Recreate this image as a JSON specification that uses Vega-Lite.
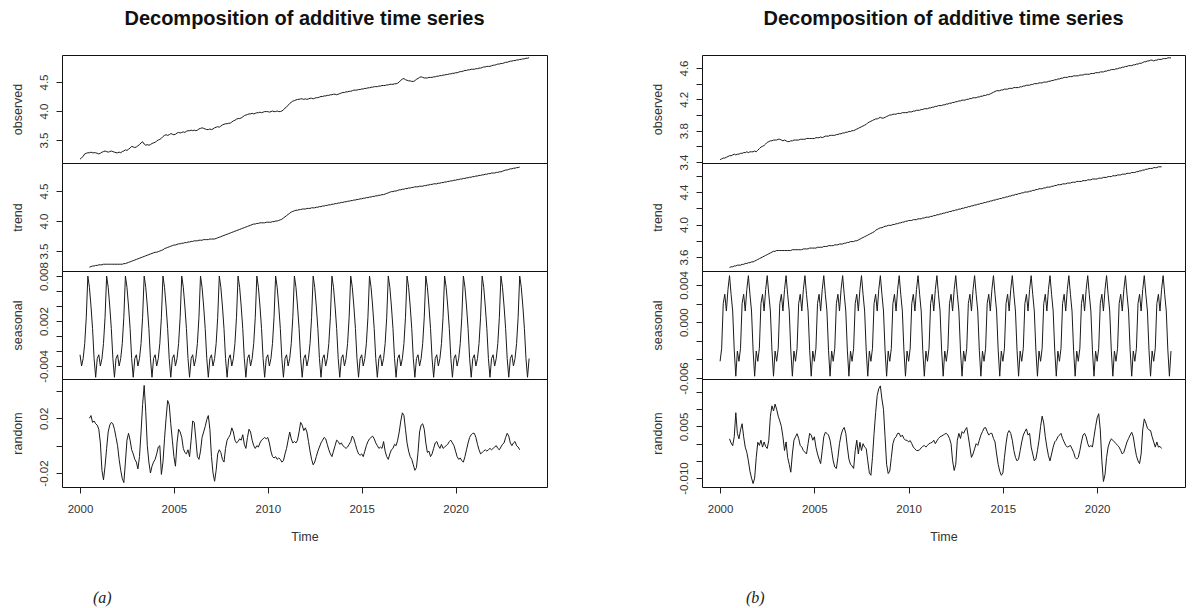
{
"$schema":"https://vega.github.io/schema/vega-lite/v6.json",
"background":"white",
"padding":{"left":10,"top":8,"right":0,"bottom":0},
"config":{
"view":{"stroke":"#111","strokeWidth":1},
"axis":{"grid":false,"domain":false,"tickColor":"#222","tickSize":6,"tickWidth":1,"labelFont":"Liberation Sans","labelFontSize":11.5,"labelColor":"#333","titleFont":"Liberation Sans","titleFontSize":12.5,"titleFontWeight":"normal","titleColor":"#333","labelOverlap":false,"labelFlush":false,"labelBound":false},
"axisY":{"labelAngle":-90,"labelAlign":"center","labelBaseline":"alphabetic","labelPadding":9,"titlePadding":14},
"axisX":{"labelAngle":0,"labelAlign":"center","labelBaseline":"top","labelPadding":10,"titlePadding":16},
"line":{"color":"#1a1a1a","strokeWidth":1}
},
"data":{"values":[
{"t":2000,"ao":3.17,"as":-0.0025,"bo":3.43,"bs":-0.0042},
{"t":2000.083,"ao":3.19,"as":-0.004,"bo":3.44,"bs":-0.0028},
{"t":2000.167,"ao":3.22,"as":-0.003,"bo":3.45,"bs":0.002},
{"t":2000.25,"ao":3.26,"as":-0.001,"bo":3.45,"bs":0.003},
{"t":2000.333,"ao":3.27,"as":0.0025,"bo":3.46,"bs":0.0012},
{"t":2000.417,"ao":3.28,"as":0.008,"bo":3.47,"bs":0.0035},
{"t":2000.5,"ao":3.28,"at":3.23,"as":0.0065,"ar":0.020,"bo":3.48,"bt":3.47,"bs":0.005,"br":0.0014},
{"t":2000.583,"ao":3.29,"at":3.24,"as":0.004,"ar":0.022,"bo":3.48,"bt":3.48,"bs":0.003,"br":0.0002},
{"t":2000.667,"ao":3.28,"at":3.25,"as":0.001,"ar":0.017,"bo":3.49,"bt":3.48,"bs":0.0012,"br":-0.0006},
{"t":2000.75,"ao":3.28,"at":3.25,"as":-0.003,"ar":0.018,"bo":3.50,"bt":3.49,"bs":-0.003,"br":0.0020},
{"t":2000.833,"ao":3.28,"at":3.26,"as":-0.0055,"ar":0.016,"bo":3.49,"bt":3.49,"bs":-0.0058,"br":0.0090},
{"t":2000.917,"ao":3.27,"at":3.26,"as":-0.003,"ar":0.015,"bo":3.50,"bt":3.50,"bs":-0.0031,"br":0.0030},
{"t":2001,"ao":3.26,"at":3.27,"as":-0.0025,"ar":0.012,"bo":3.50,"bt":3.50,"bs":-0.0042,"br":0.0014},
{"t":2001.083,"ao":3.27,"at":3.27,"as":-0.004,"ar":0.002,"bo":3.51,"bt":3.50,"bs":-0.0028,"br":0.0040},
{"t":2001.167,"ao":3.29,"at":3.27,"as":-0.003,"ar":-0.018,"bo":3.51,"bt":3.51,"bs":0.002,"br":0.0058},
{"t":2001.25,"ao":3.30,"at":3.28,"as":-0.001,"ar":-0.025,"bo":3.52,"bt":3.51,"bs":0.003,"br":0.0020},
{"t":2001.333,"ao":3.31,"at":3.28,"as":0.0025,"ar":-0.015,"bo":3.52,"bt":3.52,"bs":0.0012,"br":-0.0010},
{"t":2001.417,"ao":3.30,"at":3.28,"as":0.008,"ar":-0.002,"bo":3.53,"bt":3.52,"bs":0.0035,"br":-0.0025},
{"t":2001.5,"ao":3.29,"at":3.28,"as":0.0065,"ar":0.010,"bo":3.52,"bt":3.53,"bs":0.005,"br":-0.0050},
{"t":2001.583,"ao":3.30,"at":3.28,"as":0.004,"ar":0.015,"bo":3.53,"bt":3.53,"bs":0.003,"br":-0.0080},
{"t":2001.667,"ao":3.31,"at":3.28,"as":0.001,"ar":0.017,"bo":3.53,"bt":3.54,"bs":0.0012,"br":-0.0100},
{"t":2001.75,"ao":3.30,"at":3.28,"as":-0.003,"ar":0.016,"bo":3.53,"bt":3.54,"bs":-0.003,"br":-0.0116},
{"t":2001.833,"ao":3.29,"at":3.28,"as":-0.0055,"ar":0.012,"bo":3.54,"bt":3.55,"bs":-0.0058,"br":-0.0100},
{"t":2001.917,"ao":3.28,"at":3.28,"as":-0.003,"ar":0.006,"bo":3.53,"bt":3.56,"bs":-0.0031,"br":-0.0040},
{"t":2002,"ao":3.28,"at":3.28,"as":-0.0025,"ar":0.000,"bo":3.55,"bt":3.57,"bs":-0.0042,"br":0.0004},
{"t":2002.083,"ao":3.29,"at":3.28,"as":-0.004,"ar":-0.010,"bo":3.57,"bt":3.58,"bs":-0.0028,"br":-0.0005},
{"t":2002.167,"ao":3.28,"at":3.28,"as":-0.003,"ar":-0.018,"bo":3.59,"bt":3.59,"bs":0.002,"br":0.0010},
{"t":2002.25,"ao":3.30,"at":3.28,"as":-0.001,"ar":-0.024,"bo":3.60,"bt":3.60,"bs":0.003,"br":-0.0010},
{"t":2002.333,"ao":3.31,"at":3.29,"as":0.0025,"ar":-0.027,"bo":3.61,"bt":3.61,"bs":0.0012,"br":0.0005},
{"t":2002.417,"ao":3.33,"at":3.29,"as":0.008,"ar":-0.012,"bo":3.63,"bt":3.62,"bs":0.0035,"br":-0.0008},
{"t":2002.5,"ao":3.32,"at":3.30,"as":0.0065,"ar":0.004,"bo":3.65,"bt":3.63,"bs":0.005,"br":-0.0014},
{"t":2002.583,"ao":3.34,"at":3.31,"as":0.004,"ar":0.009,"bo":3.66,"bt":3.64,"bs":0.003,"br":0.0010},
{"t":2002.667,"ao":3.36,"at":3.32,"as":0.001,"ar":0.004,"bo":3.67,"bt":3.65,"bs":0.0012,"br":0.0080},
{"t":2002.75,"ao":3.39,"at":3.33,"as":-0.003,"ar":-0.003,"bo":3.67,"bt":3.66,"bs":-0.003,"br":0.0110},
{"t":2002.833,"ao":3.38,"at":3.34,"as":-0.0055,"ar":-0.006,"bo":3.68,"bt":3.67,"bs":-0.0058,"br":0.0095},
{"t":2002.917,"ao":3.37,"at":3.35,"as":-0.003,"ar":-0.010,"bo":3.68,"bt":3.67,"bs":-0.0031,"br":0.0115},
{"t":2003,"ao":3.38,"at":3.36,"as":-0.0025,"ar":-0.012,"bo":3.68,"bt":3.68,"bs":-0.0042,"br":0.0100},
{"t":2003.083,"ao":3.40,"at":3.37,"as":-0.004,"ar":-0.017,"bo":3.69,"bt":3.68,"bs":-0.0028,"br":0.0080},
{"t":2003.167,"ao":3.42,"at":3.38,"as":-0.003,"ar":-0.008,"bo":3.69,"bt":3.68,"bs":0.002,"br":0.0066},
{"t":2003.25,"ao":3.45,"at":3.39,"as":-0.001,"ar":0.010,"bo":3.68,"bt":3.68,"bs":0.003,"br":0.0050},
{"t":2003.333,"ao":3.47,"at":3.40,"as":0.0025,"ar":0.030,"bo":3.67,"bt":3.68,"bs":0.0012,"br":0.0020},
{"t":2003.417,"ao":3.43,"at":3.41,"as":0.008,"ar":0.044,"bo":3.68,"bt":3.68,"bs":0.0035,"br":-0.0020},
{"t":2003.5,"ao":3.41,"at":3.42,"as":0.0065,"ar":0.025,"bo":3.67,"bt":3.68,"bs":0.005,"br":0.0005},
{"t":2003.583,"ao":3.42,"at":3.43,"as":0.004,"ar":0.000,"bo":3.66,"bt":3.68,"bs":0.003,"br":-0.0040},
{"t":2003.667,"ao":3.41,"at":3.44,"as":0.001,"ar":-0.012,"bo":3.66,"bt":3.68,"bs":0.0012,"br":-0.0060},
{"t":2003.75,"ao":3.42,"at":3.45,"as":-0.003,"ar":-0.020,"bo":3.67,"bt":3.68,"bs":-0.003,"br":-0.0083},
{"t":2003.833,"ao":3.44,"at":3.46,"as":-0.0055,"ar":-0.015,"bo":3.67,"bt":3.69,"bs":-0.0058,"br":-0.0030},
{"t":2003.917,"ao":3.45,"at":3.47,"as":-0.003,"ar":-0.012,"bo":3.68,"bt":3.69,"bs":-0.0031,"br":0.0010},
{"t":2004,"ao":3.46,"at":3.48,"as":-0.0025,"ar":-0.010,"bo":3.68,"bt":3.69,"bs":-0.0042,"br":0.0020},
{"t":2004.083,"ao":3.48,"at":3.48,"as":-0.004,"ar":-0.006,"bo":3.68,"bt":3.69,"bs":-0.0028,"br":0.0029},
{"t":2004.167,"ao":3.50,"at":3.49,"as":-0.003,"ar":-0.001,"bo":3.68,"bt":3.69,"bs":0.002,"br":0.0015},
{"t":2004.25,"ao":3.51,"at":3.50,"as":-0.001,"ar":0.000,"bo":3.69,"bt":3.69,"bs":0.003,"br":-0.0005},
{"t":2004.333,"ao":3.53,"at":3.51,"as":0.0025,"ar":-0.021,"bo":3.69,"bt":3.69,"bs":0.0012,"br":-0.0010},
{"t":2004.417,"ao":3.56,"at":3.52,"as":0.008,"ar":-0.012,"bo":3.69,"bt":3.70,"bs":0.0035,"br":-0.0020},
{"t":2004.5,"ao":3.58,"at":3.54,"as":0.0065,"ar":0.005,"bo":3.69,"bt":3.70,"bs":0.005,"br":-0.0025},
{"t":2004.583,"ao":3.59,"at":3.55,"as":0.004,"ar":0.020,"bo":3.70,"bt":3.70,"bs":0.003,"br":-0.0030},
{"t":2004.667,"ao":3.58,"at":3.56,"as":0.001,"ar":0.033,"bo":3.70,"bt":3.70,"bs":0.0012,"br":0.0000},
{"t":2004.75,"ao":3.59,"at":3.57,"as":-0.003,"ar":0.030,"bo":3.70,"bt":3.71,"bs":-0.003,"br":0.0030},
{"t":2004.833,"ao":3.61,"at":3.58,"as":-0.0055,"ar":0.016,"bo":3.70,"bt":3.71,"bs":-0.0058,"br":0.0025},
{"t":2004.917,"ao":3.60,"at":3.59,"as":-0.003,"ar":0.004,"bo":3.70,"bt":3.71,"bs":-0.0031,"br":0.0010},
{"t":2005,"ao":3.59,"at":3.60,"as":-0.0025,"ar":-0.008,"bo":3.70,"bt":3.71,"bs":-0.0042,"br":0.0020},
{"t":2005.083,"ao":3.60,"at":3.60,"as":-0.004,"ar":-0.015,"bo":3.71,"bt":3.71,"bs":-0.0028,"br":-0.0010},
{"t":2005.167,"ao":3.62,"at":3.61,"as":-0.003,"ar":0.002,"bo":3.71,"bt":3.72,"bs":0.002,"br":-0.0030},
{"t":2005.25,"ao":3.63,"at":3.62,"as":-0.001,"ar":0.012,"bo":3.71,"bt":3.72,"bs":0.003,"br":-0.0045},
{"t":2005.333,"ao":3.62,"at":3.62,"as":0.0025,"ar":0.010,"bo":3.72,"bt":3.72,"bs":0.0012,"br":-0.0058},
{"t":2005.417,"ao":3.63,"at":3.63,"as":0.008,"ar":0.006,"bo":3.71,"bt":3.72,"bs":0.0035,"br":-0.0020},
{"t":2005.5,"ao":3.64,"at":3.63,"as":0.0065,"ar":-0.002,"bo":3.72,"bt":3.73,"bs":0.005,"br":0.0020},
{"t":2005.583,"ao":3.63,"at":3.64,"as":0.004,"ar":-0.005,"bo":3.73,"bt":3.73,"bs":0.003,"br":0.0033},
{"t":2005.667,"ao":3.65,"at":3.64,"as":0.001,"ar":-0.006,"bo":3.73,"bt":3.73,"bs":0.0012,"br":0.0030},
{"t":2005.75,"ao":3.66,"at":3.65,"as":-0.003,"ar":-0.003,"bo":3.73,"bt":3.74,"bs":-0.003,"br":0.0025},
{"t":2005.833,"ao":3.66,"at":3.65,"as":-0.0055,"ar":-0.008,"bo":3.74,"bt":3.74,"bs":-0.0058,"br":0.0010},
{"t":2005.917,"ao":3.67,"at":3.66,"as":-0.003,"ar":0.004,"bo":3.74,"bt":3.74,"bs":-0.0031,"br":-0.0020},
{"t":2006,"ao":3.66,"at":3.66,"as":-0.0025,"ar":0.018,"bo":3.74,"bt":3.74,"bs":-0.0042,"br":-0.0050},
{"t":2006.083,"ao":3.67,"at":3.67,"as":-0.004,"ar":0.017,"bo":3.74,"bt":3.75,"bs":-0.0028,"br":-0.0068},
{"t":2006.167,"ao":3.66,"at":3.67,"as":-0.003,"ar":0.005,"bo":3.75,"bt":3.75,"bs":0.002,"br":-0.0072},
{"t":2006.25,"ao":3.67,"at":3.67,"as":-0.001,"ar":-0.008,"bo":3.75,"bt":3.75,"bs":0.003,"br":-0.0040},
{"t":2006.333,"ao":3.69,"at":3.68,"as":0.0025,"ar":-0.010,"bo":3.76,"bt":3.76,"bs":0.0012,"br":0.0000},
{"t":2006.417,"ao":3.70,"at":3.68,"as":0.008,"ar":-0.004,"bo":3.76,"bt":3.76,"bs":0.0035,"br":0.0025},
{"t":2006.5,"ao":3.71,"at":3.68,"as":0.0065,"ar":0.006,"bo":3.77,"bt":3.76,"bs":0.005,"br":0.0040},
{"t":2006.583,"ao":3.70,"at":3.69,"as":0.004,"ar":0.010,"bo":3.77,"bt":3.77,"bs":0.003,"br":0.0047},
{"t":2006.667,"ao":3.69,"at":3.69,"as":0.001,"ar":0.014,"bo":3.78,"bt":3.77,"bs":0.0012,"br":0.0030},
{"t":2006.75,"ao":3.68,"at":3.69,"as":-0.003,"ar":0.019,"bo":3.78,"bt":3.78,"bs":-0.003,"br":-0.0010},
{"t":2006.833,"ao":3.68,"at":3.69,"as":-0.0055,"ar":0.022,"bo":3.79,"bt":3.78,"bs":-0.0058,"br":-0.0045},
{"t":2006.917,"ao":3.69,"at":3.70,"as":-0.003,"ar":0.012,"bo":3.79,"bt":3.79,"bs":-0.0031,"br":-0.0060},
{"t":2007,"ao":3.68,"at":3.70,"as":-0.0025,"ar":-0.008,"bo":3.80,"bt":3.79,"bs":-0.0042,"br":-0.0065},
{"t":2007.083,"ao":3.69,"at":3.70,"as":-0.004,"ar":-0.020,"bo":3.80,"bt":3.79,"bs":-0.0028,"br":-0.0072},
{"t":2007.167,"ao":3.71,"at":3.70,"as":-0.003,"ar":-0.026,"bo":3.81,"bt":3.80,"bs":0.002,"br":-0.0020},
{"t":2007.25,"ao":3.72,"at":3.71,"as":-0.001,"ar":-0.018,"bo":3.82,"bt":3.80,"bs":0.003,"br":0.0010},
{"t":2007.333,"ao":3.73,"at":3.72,"as":0.0025,"ar":-0.006,"bo":3.83,"bt":3.81,"bs":0.0012,"br":-0.0030},
{"t":2007.417,"ao":3.72,"at":3.73,"as":0.008,"ar":-0.003,"bo":3.84,"bt":3.82,"bs":0.0035,"br":0.0004},
{"t":2007.5,"ao":3.74,"at":3.74,"as":0.0065,"ar":-0.005,"bo":3.85,"bt":3.83,"bs":0.005,"br":-0.0020},
{"t":2007.583,"ao":3.76,"at":3.75,"as":0.004,"ar":-0.010,"bo":3.86,"bt":3.84,"bs":0.003,"br":0.0000},
{"t":2007.667,"ao":3.77,"at":3.76,"as":0.001,"ar":-0.012,"bo":3.87,"bt":3.85,"bs":0.0012,"br":-0.0010},
{"t":2007.75,"ao":3.78,"at":3.77,"as":-0.003,"ar":-0.002,"bo":3.88,"bt":3.86,"bs":-0.003,"br":-0.0014},
{"t":2007.833,"ao":3.78,"at":3.78,"as":-0.0055,"ar":0.004,"bo":3.90,"bt":3.87,"bs":-0.0058,"br":-0.0050},
{"t":2007.917,"ao":3.79,"at":3.79,"as":-0.003,"ar":0.006,"bo":3.91,"bt":3.88,"bs":-0.0031,"br":-0.0085},
{"t":2008,"ao":3.79,"at":3.80,"as":-0.0025,"ar":0.008,"bo":3.92,"bt":3.89,"bs":-0.0042,"br":-0.0092},
{"t":2008.083,"ao":3.81,"at":3.81,"as":-0.004,"ar":0.013,"bo":3.93,"bt":3.90,"bs":-0.0028,"br":-0.0040},
{"t":2008.167,"ao":3.83,"at":3.82,"as":-0.003,"ar":0.010,"bo":3.94,"bt":3.91,"bs":0.002,"br":0.0030},
{"t":2008.25,"ao":3.84,"at":3.83,"as":-0.001,"ar":0.004,"bo":3.95,"bt":3.93,"bs":0.003,"br":0.0090},
{"t":2008.333,"ao":3.86,"at":3.84,"as":0.0025,"ar":0.002,"bo":3.95,"bt":3.94,"bs":0.0012,"br":0.0140},
{"t":2008.417,"ao":3.87,"at":3.85,"as":0.008,"ar":0.003,"bo":3.96,"bt":3.95,"bs":0.0035,"br":0.0160},
{"t":2008.5,"ao":3.87,"at":3.86,"as":0.0065,"ar":0.005,"bo":3.97,"bt":3.96,"bs":0.005,"br":0.0168},
{"t":2008.583,"ao":3.88,"at":3.87,"as":0.004,"ar":0.004,"bo":3.96,"bt":3.96,"bs":0.003,"br":0.0130},
{"t":2008.667,"ao":3.90,"at":3.88,"as":0.001,"ar":0.008,"bo":3.96,"bt":3.97,"bs":0.0012,"br":0.0100},
{"t":2008.75,"ao":3.92,"at":3.89,"as":-0.003,"ar":0.001,"bo":3.97,"bt":3.98,"bs":-0.003,"br":0.0020},
{"t":2008.833,"ao":3.93,"at":3.90,"as":-0.0055,"ar":-0.002,"bo":3.98,"bt":3.98,"bs":-0.0058,"br":-0.0060},
{"t":2008.917,"ao":3.94,"at":3.91,"as":-0.003,"ar":0.006,"bo":3.99,"bt":3.99,"bs":-0.0031,"br":-0.0087},
{"t":2009,"ao":3.95,"at":3.92,"as":-0.0025,"ar":0.012,"bo":4.00,"bt":3.99,"bs":-0.0042,"br":-0.0080},
{"t":2009.083,"ao":3.95,"at":3.93,"as":-0.004,"ar":0.010,"bo":4.00,"bt":3.99,"bs":-0.0028,"br":-0.0040},
{"t":2009.167,"ao":3.96,"at":3.94,"as":-0.003,"ar":0.004,"bo":4.01,"bt":4.00,"bs":0.002,"br":0.0000},
{"t":2009.25,"ao":3.95,"at":3.95,"as":-0.001,"ar":0.000,"bo":4.01,"bt":4.00,"bs":0.003,"br":0.0015},
{"t":2009.333,"ao":3.96,"at":3.95,"as":0.0025,"ar":-0.002,"bo":4.01,"bt":4.01,"bs":0.0012,"br":0.0020},
{"t":2009.417,"ao":3.97,"at":3.96,"as":0.008,"ar":0.000,"bo":4.02,"bt":4.01,"bs":0.0035,"br":0.0030},
{"t":2009.5,"ao":3.97,"at":3.96,"as":0.0065,"ar":-0.001,"bo":4.02,"bt":4.02,"bs":0.005,"br":0.0030},
{"t":2009.583,"ao":3.98,"at":3.97,"as":0.004,"ar":0.002,"bo":4.02,"bt":4.02,"bs":0.003,"br":0.0020},
{"t":2009.667,"ao":3.97,"at":3.97,"as":0.001,"ar":0.004,"bo":4.03,"bt":4.03,"bs":0.0012,"br":0.0025},
{"t":2009.75,"ao":3.98,"at":3.97,"as":-0.003,"ar":0.005,"bo":4.03,"bt":4.03,"bs":-0.003,"br":0.0015},
{"t":2009.833,"ao":3.99,"at":3.97,"as":-0.0055,"ar":0.006,"bo":4.03,"bt":4.04,"bs":-0.0058,"br":0.0010},
{"t":2009.917,"ao":3.99,"at":3.98,"as":-0.003,"ar":0.005,"bo":4.03,"bt":4.04,"bs":-0.0031,"br":0.0010},
{"t":2010,"ao":3.99,"at":3.98,"as":-0.0025,"ar":0.006,"bo":4.04,"bt":4.05,"bs":-0.0042,"br":0.0005},
{"t":2010.083,"ao":3.98,"at":3.98,"as":-0.004,"ar":0.002,"bo":4.04,"bt":4.05,"bs":-0.0028,"br":0.0009},
{"t":2010.167,"ao":3.99,"at":3.98,"as":-0.003,"ar":-0.004,"bo":4.04,"bt":4.05,"bs":0.002,"br":0.0000},
{"t":2010.25,"ao":4.00,"at":3.99,"as":-0.001,"ar":-0.008,"bo":4.05,"bt":4.06,"bs":0.003,"br":-0.0010},
{"t":2010.333,"ao":3.99,"at":3.99,"as":0.0025,"ar":-0.009,"bo":4.05,"bt":4.06,"bs":0.0012,"br":-0.0015},
{"t":2010.417,"ao":3.99,"at":4.00,"as":0.008,"ar":-0.008,"bo":4.06,"bt":4.06,"bs":0.0035,"br":-0.0020},
{"t":2010.5,"ao":4.00,"at":4.00,"as":0.0065,"ar":-0.010,"bo":4.06,"bt":4.07,"bs":0.005,"br":-0.0020},
{"t":2010.583,"ao":3.99,"at":4.01,"as":0.004,"ar":-0.009,"bo":4.06,"bt":4.07,"bs":0.003,"br":-0.0018},
{"t":2010.667,"ao":3.99,"at":4.02,"as":0.001,"ar":-0.010,"bo":4.07,"bt":4.07,"bs":0.0012,"br":-0.0012},
{"t":2010.75,"ao":4.00,"at":4.03,"as":-0.003,"ar":-0.012,"bo":4.07,"bt":4.08,"bs":-0.003,"br":-0.0008},
{"t":2010.833,"ao":4.02,"at":4.05,"as":-0.0055,"ar":-0.011,"bo":4.08,"bt":4.08,"bs":-0.0058,"br":-0.0005},
{"t":2010.917,"ao":4.05,"at":4.07,"as":-0.003,"ar":-0.006,"bo":4.08,"bt":4.09,"bs":-0.0031,"br":-0.0010},
{"t":2011,"ao":4.07,"at":4.09,"as":-0.0025,"ar":-0.002,"bo":4.08,"bt":4.09,"bs":-0.0042,"br":-0.0005},
{"t":2011.083,"ao":4.10,"at":4.11,"as":-0.004,"ar":0.004,"bo":4.09,"bt":4.09,"bs":-0.0028,"br":0.0000},
{"t":2011.167,"ao":4.13,"at":4.13,"as":-0.003,"ar":0.010,"bo":4.09,"bt":4.10,"bs":0.002,"br":0.0002},
{"t":2011.25,"ao":4.15,"at":4.15,"as":-0.001,"ar":0.005,"bo":4.10,"bt":4.10,"bs":0.003,"br":0.0004},
{"t":2011.333,"ao":4.17,"at":4.16,"as":0.0025,"ar":0.002,"bo":4.10,"bt":4.11,"bs":0.0012,"br":0.0010},
{"t":2011.417,"ao":4.18,"at":4.17,"as":0.008,"ar":0.003,"bo":4.11,"bt":4.11,"bs":0.0035,"br":0.0000},
{"t":2011.5,"ao":4.19,"at":4.18,"as":0.0065,"ar":0.002,"bo":4.11,"bt":4.12,"bs":0.005,"br":0.0008},
{"t":2011.583,"ao":4.20,"at":4.18,"as":0.004,"ar":0.004,"bo":4.12,"bt":4.12,"bs":0.003,"br":0.0015},
{"t":2011.667,"ao":4.20,"at":4.19,"as":0.001,"ar":0.010,"bo":4.12,"bt":4.13,"bs":0.0012,"br":0.0020},
{"t":2011.75,"ao":4.21,"at":4.19,"as":-0.003,"ar":0.017,"bo":4.12,"bt":4.13,"bs":-0.003,"br":0.0022},
{"t":2011.833,"ao":4.21,"at":4.20,"as":-0.0055,"ar":0.015,"bo":4.13,"bt":4.14,"bs":-0.0058,"br":0.0025},
{"t":2011.917,"ao":4.20,"at":4.20,"as":-0.003,"ar":0.011,"bo":4.13,"bt":4.14,"bs":-0.0031,"br":0.0028},
{"t":2012,"ao":4.21,"at":4.20,"as":-0.0025,"ar":0.013,"bo":4.14,"bt":4.15,"bs":-0.0042,"br":0.0030},
{"t":2012.083,"ao":4.20,"at":4.21,"as":-0.004,"ar":0.010,"bo":4.14,"bt":4.15,"bs":-0.0028,"br":0.0025},
{"t":2012.167,"ao":4.21,"at":4.21,"as":-0.003,"ar":0.003,"bo":4.15,"bt":4.16,"bs":0.002,"br":0.0015},
{"t":2012.25,"ao":4.22,"at":4.21,"as":-0.001,"ar":-0.004,"bo":4.15,"bt":4.16,"bs":0.003,"br":0.0000},
{"t":2012.333,"ao":4.22,"at":4.22,"as":0.0025,"ar":-0.010,"bo":4.16,"bt":4.17,"bs":0.0012,"br":-0.0050},
{"t":2012.417,"ao":4.21,"at":4.22,"as":0.008,"ar":-0.014,"bo":4.16,"bt":4.17,"bs":0.0035,"br":-0.0078},
{"t":2012.5,"ao":4.22,"at":4.22,"as":0.0065,"ar":-0.012,"bo":4.17,"bt":4.18,"bs":0.005,"br":-0.0060},
{"t":2012.583,"ao":4.23,"at":4.23,"as":0.004,"ar":-0.008,"bo":4.17,"bt":4.18,"bs":0.003,"br":0.0010},
{"t":2012.667,"ao":4.23,"at":4.23,"as":0.001,"ar":-0.004,"bo":4.18,"bt":4.19,"bs":0.0012,"br":0.0030},
{"t":2012.75,"ao":4.24,"at":4.24,"as":-0.003,"ar":-0.001,"bo":4.18,"bt":4.19,"bs":-0.003,"br":0.0015},
{"t":2012.833,"ao":4.25,"at":4.24,"as":-0.0055,"ar":0.002,"bo":4.19,"bt":4.20,"bs":-0.0058,"br":0.0035},
{"t":2012.917,"ao":4.25,"at":4.25,"as":-0.003,"ar":0.004,"bo":4.19,"bt":4.20,"bs":-0.0031,"br":0.0030},
{"t":2013,"ao":4.26,"at":4.25,"as":-0.0025,"ar":0.006,"bo":4.19,"bt":4.21,"bs":-0.0042,"br":0.0040},
{"t":2013.083,"ao":4.26,"at":4.26,"as":-0.004,"ar":0.005,"bo":4.20,"bt":4.21,"bs":-0.0028,"br":0.0047},
{"t":2013.167,"ao":4.27,"at":4.26,"as":-0.003,"ar":0.001,"bo":4.20,"bt":4.22,"bs":0.002,"br":0.0020},
{"t":2013.25,"ao":4.27,"at":4.27,"as":-0.001,"ar":-0.003,"bo":4.21,"bt":4.22,"bs":0.003,"br":-0.0010},
{"t":2013.333,"ao":4.28,"at":4.27,"as":0.0025,"ar":-0.006,"bo":4.21,"bt":4.23,"bs":0.0012,"br":-0.0040},
{"t":2013.417,"ao":4.28,"at":4.28,"as":0.008,"ar":-0.008,"bo":4.22,"bt":4.23,"bs":0.0035,"br":-0.0030},
{"t":2013.5,"ao":4.29,"at":4.28,"as":0.0065,"ar":-0.004,"bo":4.22,"bt":4.24,"bs":0.005,"br":-0.0015},
{"t":2013.583,"ao":4.29,"at":4.29,"as":0.004,"ar":0.000,"bo":4.22,"bt":4.24,"bs":0.003,"br":0.0000},
{"t":2013.667,"ao":4.28,"at":4.29,"as":0.001,"ar":0.004,"bo":4.23,"bt":4.25,"bs":0.0012,"br":-0.0005},
{"t":2013.75,"ao":4.29,"at":4.30,"as":-0.003,"ar":0.003,"bo":4.23,"bt":4.25,"bs":-0.003,"br":0.0010},
{"t":2013.833,"ao":4.30,"at":4.30,"as":-0.0055,"ar":0.001,"bo":4.24,"bt":4.26,"bs":-0.0058,"br":0.0025},
{"t":2013.917,"ao":4.31,"at":4.31,"as":-0.003,"ar":0.002,"bo":4.24,"bt":4.26,"bs":-0.0031,"br":0.0035},
{"t":2014,"ao":4.32,"at":4.31,"as":-0.0025,"ar":0.000,"bo":4.25,"bt":4.27,"bs":-0.0042,"br":0.0045},
{"t":2014.083,"ao":4.32,"at":4.32,"as":-0.004,"ar":-0.001,"bo":4.25,"bt":4.27,"bs":-0.0028,"br":0.0047},
{"t":2014.167,"ao":4.33,"at":4.32,"as":-0.003,"ar":-0.002,"bo":4.26,"bt":4.28,"bs":0.002,"br":0.0035},
{"t":2014.25,"ao":4.33,"at":4.33,"as":-0.001,"ar":-0.001,"bo":4.26,"bt":4.28,"bs":0.003,"br":0.0025},
{"t":2014.333,"ao":4.34,"at":4.33,"as":0.0025,"ar":0.001,"bo":4.27,"bt":4.29,"bs":0.0012,"br":0.0030},
{"t":2014.417,"ao":4.34,"at":4.34,"as":0.008,"ar":0.003,"bo":4.28,"bt":4.29,"bs":0.0035,"br":0.0030},
{"t":2014.5,"ao":4.35,"at":4.34,"as":0.0065,"ar":0.007,"bo":4.29,"bt":4.30,"bs":0.005,"br":0.0015},
{"t":2014.583,"ao":4.36,"at":4.35,"as":0.004,"ar":0.005,"bo":4.30,"bt":4.30,"bs":0.003,"br":0.0005},
{"t":2014.667,"ao":4.36,"at":4.35,"as":0.001,"ar":0.001,"bo":4.31,"bt":4.31,"bs":0.0012,"br":-0.0030},
{"t":2014.75,"ao":4.36,"at":4.36,"as":-0.003,"ar":-0.003,"bo":4.31,"bt":4.31,"bs":-0.003,"br":-0.0060},
{"t":2014.833,"ao":4.37,"at":4.36,"as":-0.0055,"ar":-0.006,"bo":4.31,"bt":4.32,"bs":-0.0058,"br":-0.0080},
{"t":2014.917,"ao":4.37,"at":4.37,"as":-0.003,"ar":-0.007,"bo":4.32,"bt":4.32,"bs":-0.0031,"br":-0.0092},
{"t":2015,"ao":4.38,"at":4.37,"as":-0.0025,"ar":-0.006,"bo":4.32,"bt":4.33,"bs":-0.0042,"br":-0.0085},
{"t":2015.083,"ao":4.38,"at":4.38,"as":-0.004,"ar":-0.008,"bo":4.33,"bt":4.33,"bs":-0.0028,"br":-0.0040},
{"t":2015.167,"ao":4.39,"at":4.38,"as":-0.003,"ar":-0.004,"bo":4.33,"bt":4.34,"bs":0.002,"br":0.0000},
{"t":2015.25,"ao":4.39,"at":4.39,"as":-0.001,"ar":0.000,"bo":4.33,"bt":4.34,"bs":0.003,"br":0.0030},
{"t":2015.333,"ao":4.40,"at":4.39,"as":0.0025,"ar":0.003,"bo":4.34,"bt":4.35,"bs":0.0012,"br":0.0038},
{"t":2015.417,"ao":4.40,"at":4.40,"as":0.008,"ar":0.005,"bo":4.34,"bt":4.35,"bs":0.0035,"br":0.0030},
{"t":2015.5,"ao":4.41,"at":4.40,"as":0.0065,"ar":0.006,"bo":4.34,"bt":4.36,"bs":0.005,"br":0.0010},
{"t":2015.583,"ao":4.41,"at":4.41,"as":0.004,"ar":0.007,"bo":4.35,"bt":4.36,"bs":0.003,"br":-0.0020},
{"t":2015.667,"ao":4.42,"at":4.41,"as":0.001,"ar":0.005,"bo":4.35,"bt":4.37,"bs":0.0012,"br":-0.0040},
{"t":2015.75,"ao":4.42,"at":4.42,"as":-0.003,"ar":0.002,"bo":4.35,"bt":4.37,"bs":-0.003,"br":-0.0050},
{"t":2015.833,"ao":4.42,"at":4.42,"as":-0.0055,"ar":0.000,"bo":4.35,"bt":4.38,"bs":-0.0058,"br":-0.0045},
{"t":2015.917,"ao":4.43,"at":4.43,"as":-0.003,"ar":-0.002,"bo":4.36,"bt":4.38,"bs":-0.0031,"br":-0.0020},
{"t":2016,"ao":4.43,"at":4.43,"as":-0.0025,"ar":-0.001,"bo":4.36,"bt":4.39,"bs":-0.0042,"br":0.0005},
{"t":2016.083,"ao":4.44,"at":4.44,"as":-0.004,"ar":-0.002,"bo":4.37,"bt":4.39,"bs":-0.0028,"br":0.0025},
{"t":2016.167,"ao":4.44,"at":4.44,"as":-0.003,"ar":0.003,"bo":4.37,"bt":4.40,"bs":0.002,"br":0.0035},
{"t":2016.25,"ao":4.44,"at":4.45,"as":-0.001,"ar":-0.004,"bo":4.38,"bt":4.40,"bs":0.003,"br":0.0043},
{"t":2016.333,"ao":4.45,"at":4.46,"as":0.0025,"ar":-0.008,"bo":4.38,"bt":4.40,"bs":0.0012,"br":0.0025},
{"t":2016.417,"ao":4.45,"at":4.47,"as":0.008,"ar":-0.010,"bo":4.38,"bt":4.41,"bs":0.0035,"br":0.0030},
{"t":2016.5,"ao":4.46,"at":4.48,"as":0.0065,"ar":-0.006,"bo":4.39,"bt":4.41,"bs":0.005,"br":-0.0010},
{"t":2016.583,"ao":4.46,"at":4.49,"as":0.004,"ar":-0.003,"bo":4.39,"bt":4.42,"bs":0.003,"br":-0.0030},
{"t":2016.667,"ao":4.46,"at":4.49,"as":0.001,"ar":-0.002,"bo":4.40,"bt":4.42,"bs":0.0012,"br":-0.0050},
{"t":2016.75,"ao":4.47,"at":4.50,"as":-0.003,"ar":0.001,"bo":4.40,"bt":4.43,"bs":-0.003,"br":-0.0045},
{"t":2016.833,"ao":4.47,"at":4.50,"as":-0.0055,"ar":0.000,"bo":4.40,"bt":4.43,"bs":-0.0058,"br":-0.0020},
{"t":2016.917,"ao":4.48,"at":4.51,"as":-0.003,"ar":0.004,"bo":4.41,"bt":4.44,"bs":-0.0031,"br":0.0010},
{"t":2017,"ao":4.50,"at":4.52,"as":-0.0025,"ar":0.010,"bo":4.41,"bt":4.44,"bs":-0.0042,"br":0.0050},
{"t":2017.083,"ao":4.53,"at":4.52,"as":-0.004,"ar":0.018,"bo":4.41,"bt":4.44,"bs":-0.0028,"br":0.0080},
{"t":2017.167,"ao":4.55,"at":4.53,"as":-0.003,"ar":0.024,"bo":4.42,"bt":4.45,"bs":0.002,"br":0.0060},
{"t":2017.25,"ao":4.56,"at":4.53,"as":-0.001,"ar":0.022,"bo":4.42,"bt":4.45,"bs":0.003,"br":0.0020},
{"t":2017.333,"ao":4.54,"at":4.54,"as":0.0025,"ar":0.012,"bo":4.42,"bt":4.46,"bs":0.0012,"br":-0.0010},
{"t":2017.417,"ao":4.53,"at":4.54,"as":0.008,"ar":0.002,"bo":4.43,"bt":4.46,"bs":0.0035,"br":-0.0035},
{"t":2017.5,"ao":4.52,"at":4.55,"as":0.0065,"ar":-0.004,"bo":4.43,"bt":4.46,"bs":0.005,"br":-0.0050},
{"t":2017.583,"ao":4.52,"at":4.55,"as":0.004,"ar":-0.008,"bo":4.44,"bt":4.47,"bs":0.003,"br":-0.0030},
{"t":2017.667,"ao":4.51,"at":4.56,"as":0.001,"ar":-0.010,"bo":4.44,"bt":4.47,"bs":0.0012,"br":-0.0010},
{"t":2017.75,"ao":4.51,"at":4.56,"as":-0.003,"ar":-0.014,"bo":4.45,"bt":4.48,"bs":-0.003,"br":0.0005},
{"t":2017.833,"ao":4.52,"at":4.57,"as":-0.0055,"ar":-0.018,"bo":4.45,"bt":4.48,"bs":-0.0058,"br":0.0010},
{"t":2017.917,"ao":4.55,"at":4.57,"as":-0.003,"ar":-0.016,"bo":4.46,"bt":4.49,"bs":-0.0031,"br":0.0020},
{"t":2018,"ao":4.56,"at":4.57,"as":-0.0025,"ar":-0.005,"bo":4.46,"bt":4.49,"bs":-0.0042,"br":0.0025},
{"t":2018.083,"ao":4.58,"at":4.58,"as":-0.004,"ar":0.010,"bo":4.47,"bt":4.49,"bs":-0.0028,"br":0.0030},
{"t":2018.167,"ao":4.59,"at":4.58,"as":-0.003,"ar":0.015,"bo":4.47,"bt":4.50,"bs":0.002,"br":0.0015},
{"t":2018.25,"ao":4.58,"at":4.58,"as":-0.001,"ar":0.016,"bo":4.48,"bt":4.50,"bs":0.003,"br":0.0005},
{"t":2018.333,"ao":4.57,"at":4.59,"as":0.0025,"ar":0.012,"bo":4.48,"bt":4.50,"bs":0.0012,"br":-0.0005},
{"t":2018.417,"ao":4.57,"at":4.59,"as":0.008,"ar":0.002,"bo":4.48,"bt":4.51,"bs":0.0035,"br":-0.0010},
{"t":2018.5,"ao":4.57,"at":4.60,"as":0.0065,"ar":-0.005,"bo":4.49,"bt":4.51,"bs":0.005,"br":-0.0008},
{"t":2018.583,"ao":4.58,"at":4.60,"as":0.004,"ar":-0.004,"bo":4.49,"bt":4.51,"bs":0.003,"br":-0.0005},
{"t":2018.667,"ao":4.58,"at":4.61,"as":0.001,"ar":-0.008,"bo":4.49,"bt":4.52,"bs":0.0012,"br":-0.0015},
{"t":2018.75,"ao":4.58,"at":4.61,"as":-0.003,"ar":-0.006,"bo":4.50,"bt":4.52,"bs":-0.003,"br":-0.0025},
{"t":2018.833,"ao":4.59,"at":4.62,"as":-0.0055,"ar":-0.002,"bo":4.50,"bt":4.52,"bs":-0.0058,"br":-0.0040},
{"t":2018.917,"ao":4.59,"at":4.62,"as":-0.003,"ar":0.002,"bo":4.50,"bt":4.53,"bs":-0.0031,"br":-0.0045},
{"t":2019,"ao":4.60,"at":4.62,"as":-0.0025,"ar":0.003,"bo":4.50,"bt":4.53,"bs":-0.0042,"br":-0.0040},
{"t":2019.083,"ao":4.60,"at":4.63,"as":-0.004,"ar":0.000,"bo":4.51,"bt":4.53,"bs":-0.0028,"br":-0.0020},
{"t":2019.167,"ao":4.61,"at":4.63,"as":-0.003,"ar":-0.002,"bo":4.51,"bt":4.53,"bs":0.002,"br":0.0005},
{"t":2019.25,"ao":4.61,"at":4.64,"as":-0.001,"ar":0.001,"bo":4.51,"bt":4.54,"bs":0.003,"br":0.0025},
{"t":2019.333,"ao":4.62,"at":4.64,"as":0.0025,"ar":-0.002,"bo":4.52,"bt":4.54,"bs":0.0012,"br":0.0030},
{"t":2019.417,"ao":4.62,"at":4.65,"as":0.008,"ar":-0.001,"bo":4.52,"bt":4.54,"bs":0.0035,"br":0.0020},
{"t":2019.5,"ao":4.63,"at":4.65,"as":0.0065,"ar":0.000,"bo":4.52,"bt":4.55,"bs":0.005,"br":0.0000},
{"t":2019.583,"ao":4.63,"at":4.66,"as":0.004,"ar":0.001,"bo":4.52,"bt":4.55,"bs":0.003,"br":-0.0010},
{"t":2019.667,"ao":4.64,"at":4.66,"as":0.001,"ar":0.003,"bo":4.53,"bt":4.55,"bs":0.0012,"br":-0.0005},
{"t":2019.75,"ao":4.64,"at":4.67,"as":-0.003,"ar":0.004,"bo":4.53,"bt":4.56,"bs":-0.003,"br":-0.0010},
{"t":2019.833,"ao":4.65,"at":4.67,"as":-0.0055,"ar":0.002,"bo":4.53,"bt":4.56,"bs":-0.0058,"br":0.0020},
{"t":2019.917,"ao":4.65,"at":4.68,"as":-0.003,"ar":0.000,"bo":4.54,"bt":4.56,"bs":-0.0031,"br":0.0050},
{"t":2020,"ao":4.66,"at":4.68,"as":-0.0025,"ar":-0.004,"bo":4.54,"bt":4.56,"bs":-0.0042,"br":0.0075},
{"t":2020.083,"ao":4.66,"at":4.69,"as":-0.004,"ar":-0.008,"bo":4.54,"bt":4.57,"bs":-0.0028,"br":0.0087},
{"t":2020.167,"ao":4.67,"at":4.69,"as":-0.003,"ar":-0.010,"bo":4.55,"bt":4.57,"bs":0.002,"br":0.0040},
{"t":2020.25,"ao":4.68,"at":4.70,"as":-0.001,"ar":-0.009,"bo":4.55,"bt":4.57,"bs":0.003,"br":-0.0050},
{"t":2020.333,"ao":4.68,"at":4.70,"as":0.0025,"ar":-0.011,"bo":4.55,"bt":4.58,"bs":0.0012,"br":-0.0110},
{"t":2020.417,"ao":4.69,"at":4.71,"as":0.008,"ar":-0.012,"bo":4.56,"bt":4.58,"bs":0.0035,"br":-0.0090},
{"t":2020.5,"ao":4.70,"at":4.71,"as":0.0065,"ar":-0.008,"bo":4.56,"bt":4.58,"bs":0.005,"br":-0.0040},
{"t":2020.583,"ao":4.70,"at":4.72,"as":0.004,"ar":-0.003,"bo":4.57,"bt":4.59,"bs":0.003,"br":-0.0010},
{"t":2020.667,"ao":4.71,"at":4.72,"as":0.001,"ar":0.002,"bo":4.57,"bt":4.59,"bs":0.0012,"br":0.0005},
{"t":2020.75,"ao":4.71,"at":4.73,"as":-0.003,"ar":0.006,"bo":4.58,"bt":4.59,"bs":-0.003,"br":0.0014},
{"t":2020.833,"ao":4.72,"at":4.73,"as":-0.0055,"ar":0.008,"bo":4.58,"bt":4.60,"bs":-0.0058,"br":0.0010},
{"t":2020.917,"ao":4.72,"at":4.74,"as":-0.003,"ar":0.009,"bo":4.58,"bt":4.60,"bs":-0.0031,"br":0.0005},
{"t":2021,"ao":4.72,"at":4.74,"as":-0.0025,"ar":0.009,"bo":4.59,"bt":4.60,"bs":-0.0042,"br":0.0000},
{"t":2021.083,"ao":4.73,"at":4.75,"as":-0.004,"ar":0.006,"bo":4.59,"bt":4.61,"bs":-0.0028,"br":-0.0005},
{"t":2021.167,"ao":4.73,"at":4.75,"as":-0.003,"ar":0.001,"bo":4.60,"bt":4.61,"bs":0.002,"br":-0.0010},
{"t":2021.25,"ao":4.74,"at":4.76,"as":-0.001,"ar":-0.003,"bo":4.60,"bt":4.61,"bs":0.003,"br":-0.0020},
{"t":2021.333,"ao":4.74,"at":4.76,"as":0.0025,"ar":-0.006,"bo":4.61,"bt":4.62,"bs":0.0012,"br":-0.0030},
{"t":2021.417,"ao":4.75,"at":4.77,"as":0.008,"ar":-0.005,"bo":4.61,"bt":4.62,"bs":0.0035,"br":-0.0025},
{"t":2021.5,"ao":4.76,"at":4.77,"as":0.0065,"ar":-0.004,"bo":4.62,"bt":4.62,"bs":0.005,"br":-0.0010},
{"t":2021.583,"ao":4.76,"at":4.78,"as":0.004,"ar":-0.003,"bo":4.62,"bt":4.63,"bs":0.003,"br":0.0005},
{"t":2021.667,"ao":4.77,"at":4.78,"as":0.001,"ar":-0.004,"bo":4.63,"bt":4.63,"bs":0.0012,"br":0.0015},
{"t":2021.75,"ao":4.77,"at":4.79,"as":-0.003,"ar":-0.003,"bo":4.63,"bt":4.63,"bs":-0.003,"br":0.0025},
{"t":2021.833,"ao":4.77,"at":4.79,"as":-0.0055,"ar":-0.002,"bo":4.63,"bt":4.64,"bs":-0.0058,"br":0.0033},
{"t":2021.917,"ao":4.78,"at":4.80,"as":-0.003,"ar":-0.003,"bo":4.64,"bt":4.64,"bs":-0.0031,"br":0.0020},
{"t":2022,"ao":4.79,"at":4.80,"as":-0.0025,"ar":-0.002,"bo":4.64,"bt":4.64,"bs":-0.0042,"br":-0.0010},
{"t":2022.083,"ao":4.79,"at":4.80,"as":-0.004,"ar":-0.001,"bo":4.65,"bt":4.65,"bs":-0.0028,"br":-0.0035},
{"t":2022.167,"ao":4.80,"at":4.81,"as":-0.003,"ar":0.000,"bo":4.65,"bt":4.65,"bs":0.002,"br":-0.0050},
{"t":2022.25,"ao":4.81,"at":4.81,"as":-0.001,"ar":-0.002,"bo":4.66,"bt":4.66,"bs":0.003,"br":-0.0058},
{"t":2022.333,"ao":4.81,"at":4.82,"as":0.0025,"ar":-0.003,"bo":4.66,"bt":4.66,"bs":0.0012,"br":-0.0030},
{"t":2022.417,"ao":4.82,"at":4.82,"as":0.008,"ar":-0.001,"bo":4.67,"bt":4.67,"bs":0.0035,"br":0.0040},
{"t":2022.5,"ao":4.82,"at":4.83,"as":0.0065,"ar":0.001,"bo":4.68,"bt":4.67,"bs":0.005,"br":0.0072},
{"t":2022.583,"ao":4.83,"at":4.84,"as":0.004,"ar":0.002,"bo":4.68,"bt":4.68,"bs":0.003,"br":0.0060},
{"t":2022.667,"ao":4.84,"at":4.85,"as":0.001,"ar":0.006,"bo":4.69,"bt":4.68,"bs":0.0012,"br":0.0045},
{"t":2022.75,"ao":4.84,"at":4.85,"as":-0.003,"ar":0.009,"bo":4.69,"bt":4.69,"bs":-0.003,"br":0.0040},
{"t":2022.833,"ao":4.85,"at":4.86,"as":-0.0055,"ar":0.007,"bo":4.70,"bt":4.69,"bs":-0.0058,"br":0.0038},
{"t":2022.917,"ao":4.86,"at":4.87,"as":-0.003,"ar":0.002,"bo":4.70,"bt":4.69,"bs":-0.0031,"br":0.0020},
{"t":2023,"ao":4.86,"at":4.87,"as":-0.0025,"ar":0.000,"bo":4.69,"bt":4.70,"bs":-0.0042,"br":0.0005},
{"t":2023.083,"ao":4.87,"at":4.88,"as":-0.004,"ar":0.002,"bo":4.70,"bt":4.70,"bs":-0.0028,"br":-0.0010},
{"t":2023.167,"ao":4.87,"at":4.88,"as":-0.003,"ar":0.003,"bo":4.70,"bt":4.70,"bs":0.002,"br":0.0005},
{"t":2023.25,"ao":4.88,"at":4.89,"as":-0.001,"ar":0.000,"bo":4.71,"bt":4.71,"bs":0.003,"br":-0.0010},
{"t":2023.333,"ao":4.88,"at":4.89,"as":0.0025,"ar":-0.001,"bo":4.71,"bt":4.71,"bs":0.0012,"br":-0.0008},
{"t":2023.417,"ao":4.89,"at":4.90,"as":0.008,"ar":-0.003,"bo":4.71,"bt":4.71,"bs":0.0035,"br":-0.0014},
{"t":2023.5,"ao":4.89,"as":0.0065,"bo":4.72,"bs":0.005},
{"t":2023.583,"ao":4.90,"as":0.004,"bo":4.72,"bs":0.003},
{"t":2023.667,"ao":4.90,"as":0.001,"bo":4.72,"bs":0.0012},
{"t":2023.75,"ao":4.91,"as":-0.003,"bo":4.73,"bs":-0.003},
{"t":2023.833,"ao":4.91,"as":-0.0055,"bo":4.73,"bs":-0.0058},
{"t":2023.917,"ao":4.92,"as":-0.003,"bo":4.73,"bs":-0.0031}
]},
"spacing":102,
"resolve":{"scale":{"x":"independent","y":"independent"}},
"hconcat":[
{"vconcat":[
{"width":485,"height":108,
"title":{"text":"Decomposition of additive time series","orient":"top","anchor":"middle","frame":"group","offset":10,"baseline":"alphabetic","font":"Liberation Sans","fontSize":20,"fontWeight":"bold","color":"#111"},
"mark":{"type":"line"},
"encoding":{"x":{"field":"t","type":"quantitative","scale":{"domain":[1999.04,2024.87],"nice":false,"zero":false},"axis":null},
"y":{"field":"ao","type":"quantitative","scale":{"domain":[3.103,4.966],"nice":false,"zero":false},"axis":{"title":"observed","values":[3.5,4,4.5],"format":".1f"}}}},
{"width":485,"height":108,"mark":{"type":"line"},
"encoding":{"x":{"field":"t","type":"quantitative","scale":{"domain":[1999.04,2024.87],"nice":false,"zero":false},"axis":null},
"y":{"field":"at","type":"quantitative","scale":{"domain":[3.167,4.967],"nice":false,"zero":false},"axis":{"title":"trend","values":[3.5,4,4.5],"format":".1f"}}}},
{"width":485,"height":108,"mark":{"type":"line"},
"encoding":{"x":{"field":"t","type":"quantitative","scale":{"domain":[1999.04,2024.87],"nice":false,"zero":false},"axis":null},
"y":{"field":"as","type":"quantitative","scale":{"domain":[-0.00573,0.00867],"nice":false,"zero":false},"axis":{"title":"seasonal","values":[-0.004,-0.002,0,0.002,0.004,0.006,0.008],"labelExpr":"datum.value > 0.007 ? '0.008' : (datum.value > 0.0015 && datum.value < 0.0025) ? '0.002' : datum.value < -0.0035 ? '-0.004' : ''"}}}},
{"width":485,"height":108,
"title":{"text":"(a)","orient":"bottom","anchor":"start","frame":"group","dx":31,"offset":60,"baseline":"alphabetic","font":"Liberation Serif","fontStyle":"italic","fontSize":16,"fontWeight":"normal","color":"#222"},
"mark":{"type":"line"},
"encoding":{"x":{"field":"t","type":"quantitative","scale":{"domain":[1999.04,2024.87],"nice":false,"zero":false},"axis":{"title":"Time","values":[2000,2005,2010,2015,2020],"format":"d"}},
"y":{"field":"ar","type":"quantitative","scale":{"domain":[-0.0302,0.0487],"nice":false,"zero":false},"axis":{"title":"random","values":[-0.02,0,0.02,0.04],"labelExpr":"(datum.value > 0.01 && datum.value < 0.03) ? '0.02' : datum.value < -0.01 ? '-0.02' : ''"}}}}
],"spacing":0,"bounds":"flush","resolve":{"scale":{"x":"independent","y":"independent"}}},
{"vconcat":[
{"width":483,"height":108,
"title":{"text":"Decomposition of additive time series","orient":"top","anchor":"middle","frame":"group","offset":10,"baseline":"alphabetic","font":"Liberation Sans","fontSize":20,"fontWeight":"bold","color":"#111"},
"mark":{"type":"line"},
"encoding":{"x":{"field":"t","type":"quantitative","scale":{"domain":[1999.04,2024.66],"nice":false,"zero":false},"axis":null},
"y":{"field":"bo","type":"quantitative","scale":{"domain":[3.387,4.766],"nice":false,"zero":false},"axis":{"title":"observed","values":[3.4,3.6,3.8,4.0,4.2,4.4,4.6],"labelExpr":"abs(datum.value-3.4)<0.01 ? '3.4' : abs(datum.value-3.8)<0.01 ? '3.8' : abs(datum.value-4.2)<0.01 ? '4.2' : abs(datum.value-4.6)<0.01 ? '4.6' : ''"}}}},
{"width":483,"height":108,"mark":{"type":"line"},
"encoding":{"x":{"field":"t","type":"quantitative","scale":{"domain":[1999.04,2024.66],"nice":false,"zero":false},"axis":null},
"y":{"field":"bt","type":"quantitative","scale":{"domain":[3.428,4.757],"nice":false,"zero":false},"axis":{"title":"trend","values":[3.6,3.8,4.0,4.2,4.4,4.6],"labelExpr":"abs(datum.value-3.6)<0.01 ? '3.6' : abs(datum.value-4.0)<0.01 ? '4.0' : abs(datum.value-4.4)<0.01 ? '4.4' : ''"}}}},
{"width":483,"height":108,"mark":{"type":"line"},
"encoding":{"x":{"field":"t","type":"quantitative","scale":{"domain":[1999.04,2024.66],"nice":false,"zero":false},"axis":null},
"y":{"field":"bs","type":"quantitative","scale":{"domain":[-0.0061,0.0055],"nice":false,"zero":false},"axis":{"title":"seasonal","values":[-0.006,-0.004,-0.002,0,0.002,0.004],"labelExpr":"datum.value > 0.003 ? '0.004' : abs(datum.value) < 0.0005 ? '0.000' : datum.value < -0.005 ? '-0.006' : ''"}}}},
{"width":483,"height":108,
"title":{"text":"(b)","orient":"bottom","anchor":"start","frame":"group","dx":44,"offset":60,"baseline":"alphabetic","font":"Liberation Serif","fontStyle":"italic","fontSize":16,"fontWeight":"normal","color":"#222"},
"mark":{"type":"line"},
"encoding":{"x":{"field":"t","type":"quantitative","scale":{"domain":[1999.04,2024.66],"nice":false,"zero":false},"axis":{"title":"Time","values":[2000,2005,2010,2015,2020],"format":"d"}},
"y":{"field":"br","type":"quantitative","scale":{"domain":[-0.0126,0.0188],"nice":false,"zero":false},"axis":{"title":"random","values":[-0.01,-0.005,0,0.005,0.01,0.015],"labelExpr":"datum.value < -0.008 ? '-0.010' : abs(datum.value-0.005) < 0.001 ? '0.005' : ''"}}}}
],"spacing":0,"bounds":"flush","resolve":{"scale":{"x":"independent","y":"independent"}}}
]
}
